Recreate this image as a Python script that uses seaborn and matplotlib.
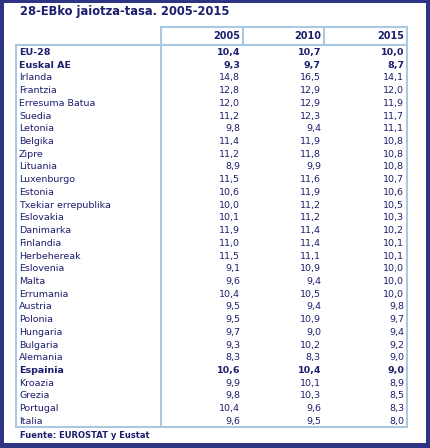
import matplotlib
matplotlib.use("Agg")
import matplotlib.pyplot as plt
import matplotlib.patches as mpatches
import seaborn as sns

title = "28-EBko jaiotza-tasa. 2005-2015"
years = ["2005", "2010", "2015"]
countries = ["EU-28", "Euskal AE", "Irlanda", "Frantzia", "Erresuma Batua", "Suedia",
             "Letonia", "Belgika", "Zipre", "Lituania", "Luxenburgo", "Estonia",
             "Txekiar errepublika", "Eslovakia", "Danimarka", "Finlandia", "Herbehereak",
             "Eslovenia", "Malta", "Errumania", "Austria", "Polonia", "Hungaria",
             "Bulgaria", "Alemania", "Espainia", "Kroazia", "Grezia", "Portugal", "Italia"]
v2005 = [10.4, 9.3, 14.8, 12.8, 12.0, 11.2, 9.8, 11.4, 11.2, 8.9, 11.5, 10.6, 10.0, 10.1,
         11.9, 11.0, 11.5, 9.1, 9.6, 10.4, 9.5, 9.5, 9.7, 9.3, 8.3, 10.6, 9.9, 9.8, 10.4, 9.6]
v2010 = [10.7, 9.7, 16.5, 12.9, 12.9, 12.3, 9.4, 11.9, 11.8, 9.9, 11.6, 11.9, 11.2, 11.2,
         11.4, 11.4, 11.1, 10.9, 9.4, 10.5, 9.4, 10.9, 9.0, 10.2, 8.3, 10.4, 10.1, 10.3, 9.6, 9.5]
v2015 = [10.0, 8.7, 14.1, 12.0, 11.9, 11.7, 11.1, 10.8, 10.8, 10.8, 10.7, 10.6, 10.5, 10.3,
         10.2, 10.1, 10.1, 10.0, 10.0, 10.0, 9.8, 9.7, 9.4, 9.2, 9.0, 9.0, 8.9, 8.5, 8.3, 8.0]
bold_rows = ["EU-28", "Euskal AE", "Espainia"]
source = "Fuente: EUROSTAT y Eustat"

sns.set_theme(style="white")
plt.rcParams["font.family"] = ["DejaVu Sans"]

NAVY = "#1c1f6e"
LINE = "#a9c9e2"
fig = plt.figure(figsize=(4.30, 4.48), dpi=100)
fig.patch.set_facecolor("#2e3383")
ax = fig.add_axes([0, 0, 1, 1])
ax.set_xlim(0, 430)
ax.set_ylim(448, 0)
ax.axis("off")
ax.add_patch(mpatches.Rectangle((4, 3), 422, 440, facecolor="white", edgecolor="none"))

ax.text(20, 12, title, color=NAVY, fontsize=8.3, fontweight="bold", va="center")

# header box
ax.add_patch(mpatches.Rectangle((161, 27), 246, 18, facecolor="white", edgecolor=LINE, lw=1.5))
for x in (243, 324):
    ax.plot([x, x], [27, 45], color=LINE, lw=1.5)
col_x = [240, 321, 404]
for x, y in zip(col_x, years):
    ax.text(x, 36, y, ha="right", va="center", color=NAVY, fontsize=7, fontweight="bold")

# body box
top, step = 45.5, 12.72
bottom = 427
ax.add_patch(mpatches.Rectangle((16, top), 391, bottom - top, facecolor="white", edgecolor=LINE, lw=1.5))
ax.plot([161, 161], [top, bottom], color=LINE, lw=1.5)

fmt = lambda v: f"{v:.1f}".replace(".", ",")
for i, name in enumerate(countries):
    y = top + 7 + i * step
    w = "bold" if name in bold_rows else "normal"
    ax.text(19, y, name, va="center", color=NAVY, fontsize=6.8, fontweight=w)
    for x, vals in zip(col_x, (v2005, v2010, v2015)):
        ax.text(x, y, fmt(vals[i]), ha="right", va="center", color=NAVY, fontsize=6.8, fontweight=w)

ax.text(20, 435, source, color=NAVY, fontsize=6, fontweight="bold", va="center")

fig.savefig("out.png", dpi=100, facecolor=fig.get_facecolor())
